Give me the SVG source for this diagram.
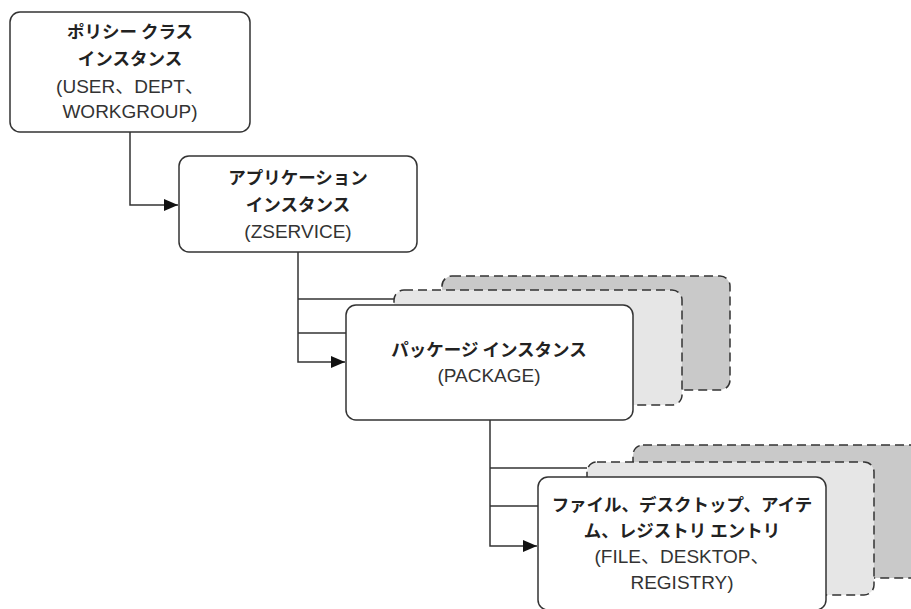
<svg xmlns="http://www.w3.org/2000/svg" width="911" height="609" viewBox="0 0 911 609">
<defs>
<style>
.box{fill:#fff;stroke:#333;stroke-width:1.5}
.back{fill:#c9c9c9;stroke:#333;stroke-width:1.5;stroke-dasharray:9 5}
.mid{fill:#e6e6e6;stroke:#333;stroke-width:1.5;stroke-dasharray:9 5}
.conn{fill:none;stroke:#333;stroke-width:1.5}
.jp{font-family:"Noto Sans CJK JP","Noto Sans",sans-serif;font-size:17.5px;font-weight:bold;fill:#222;text-anchor:middle}
.en{font-family:"Liberation Sans","Noto Sans CJK JP",sans-serif;font-size:19px;fill:#333;text-anchor:middle}
</style>
<marker id="arr" viewBox="0 0 14 12" refX="14" refY="6" markerWidth="14" markerHeight="12" markerUnits="userSpaceOnUse" orient="auto">
<path d="M0,0 L14,6 L0,12 Z" fill="#111"/>
</marker>
</defs>
<rect width="911" height="609" fill="#fff"/>
<g id="connectors">
<polyline class="conn" points="130,132 130,205 178,205" marker-end="url(#arr)"/>
<polyline class="conn" points="298,252 298,362 345,362" marker-end="url(#arr)"/>
<line class="conn" x1="298" y1="299" x2="394" y2="299"/>
<line class="conn" x1="298" y1="333" x2="346" y2="333"/>
<polyline class="conn" points="490,420 490,546 537,546" marker-end="url(#arr)"/>
<line class="conn" x1="490" y1="468" x2="587" y2="468"/>
<line class="conn" x1="490" y1="506" x2="538" y2="506"/>
</g>
<g id="policy">
<rect class="box" x="10" y="12" width="240" height="120" rx="10"/>
<text class="jp" x="130" y="38">ポリシー クラス</text>
<text class="jp" x="130" y="65">インスタンス</text>
<text class="en" x="130" y="93">(USER、DEPT、</text>
<text class="en" x="130" y="118">WORKGROUP)</text>
</g>
<g id="application">
<rect class="box" x="179" y="156" width="238" height="96" rx="10"/>
<text class="jp" x="298" y="184">アプリケーション</text>
<text class="jp" x="298" y="211">インスタンス</text>
<text class="en" x="298" y="238">(ZSERVICE)</text>
</g>
<g id="package">
<rect class="back" x="442" y="276" width="288" height="114" rx="10"/>
<rect class="mid" x="394" y="290" width="288" height="115" rx="10"/>
<rect class="box" x="346" y="305" width="287" height="115" rx="10"/>
<text class="jp" x="489" y="356">パッケージ インスタンス</text>
<text class="en" x="489" y="382">(PACKAGE)</text>
</g>
<g id="items">
<rect class="back" x="633" y="445" width="288" height="133" rx="10"/>
<rect class="mid" x="587" y="462" width="287" height="133" rx="10"/>
<rect class="box" x="538" y="477" width="288" height="133" rx="10"/>
<text class="jp" x="682" y="511">ファイル、デスクトップ、アイテ</text>
<text class="jp" x="682" y="537">ム、レジストリ エントリ</text>
<text class="en" x="682" y="563">(FILE、DESKTOP、</text>
<text class="en" x="682" y="589">REGISTRY)</text>
</g>
</svg>
